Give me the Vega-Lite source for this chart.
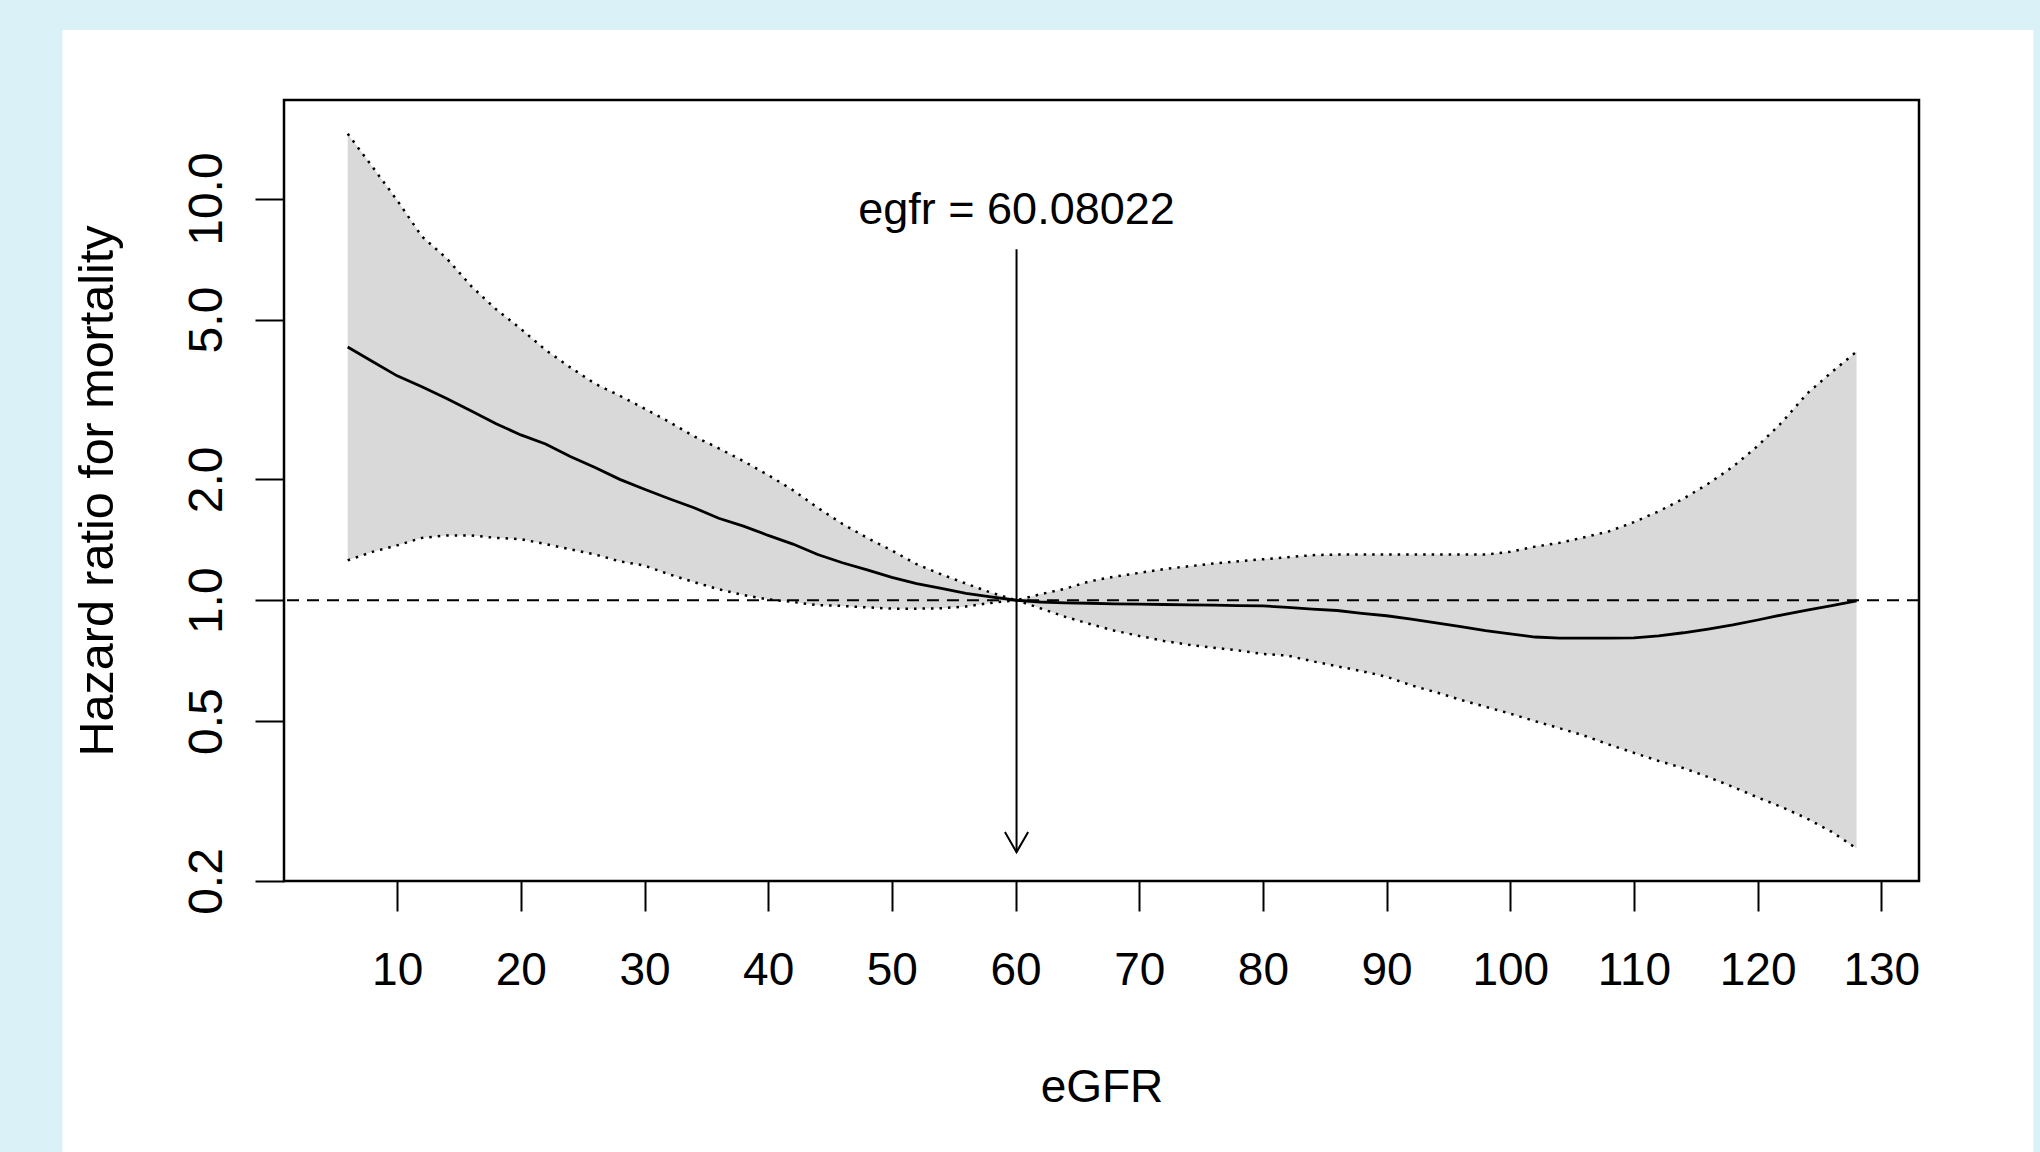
{
  "$schema": "https://vega.github.io/schema/vega-lite/v6.json",
  "width": 1635,
  "height": 781,
  "autosize": {"type": "none"},
  "padding": {"left": 284, "top": 100, "right": 121, "bottom": 271},
  "background": "#daf2f7",
  "config": {"view": {"stroke": null}, "font": "Liberation Sans"},
  "data": {
    "values": [
      {"egfr": 6, "hr": 4.27, "lo": 1.257, "hi": 14.5},
      {"egfr": 8, "hr": 3.93, "lo": 1.32, "hi": 12.0},
      {"egfr": 10, "hr": 3.62, "lo": 1.37, "hi": 9.9},
      {"egfr": 12, "hr": 3.40, "lo": 1.43, "hi": 8.05},
      {"egfr": 14, "hr": 3.18, "lo": 1.45, "hi": 7.1},
      {"egfr": 16, "hr": 2.96, "lo": 1.45, "hi": 6.05},
      {"egfr": 18, "hr": 2.75, "lo": 1.43, "hi": 5.3},
      {"egfr": 20, "hr": 2.58, "lo": 1.42, "hi": 4.74},
      {"egfr": 22, "hr": 2.45, "lo": 1.38, "hi": 4.2},
      {"egfr": 24, "hr": 2.28, "lo": 1.34, "hi": 3.8},
      {"egfr": 26, "hr": 2.14, "lo": 1.30, "hi": 3.46},
      {"egfr": 28, "hr": 2.00, "lo": 1.25, "hi": 3.23},
      {"egfr": 30, "hr": 1.89, "lo": 1.22, "hi": 3.0},
      {"egfr": 32, "hr": 1.79, "lo": 1.16, "hi": 2.78},
      {"egfr": 34, "hr": 1.70, "lo": 1.11, "hi": 2.56},
      {"egfr": 36, "hr": 1.60, "lo": 1.065, "hi": 2.39},
      {"egfr": 38, "hr": 1.53, "lo": 1.03, "hi": 2.22},
      {"egfr": 40, "hr": 1.45, "lo": 1.005, "hi": 2.05},
      {"egfr": 42, "hr": 1.38, "lo": 0.99, "hi": 1.88},
      {"egfr": 44, "hr": 1.30, "lo": 0.972, "hi": 1.70},
      {"egfr": 46, "hr": 1.24, "lo": 0.968, "hi": 1.55},
      {"egfr": 48, "hr": 1.19, "lo": 0.96, "hi": 1.43},
      {"egfr": 50, "hr": 1.14, "lo": 0.953, "hi": 1.33},
      {"egfr": 52, "hr": 1.10, "lo": 0.953, "hi": 1.23},
      {"egfr": 54, "hr": 1.07, "lo": 0.955, "hi": 1.16},
      {"egfr": 56, "hr": 1.04, "lo": 0.965, "hi": 1.10},
      {"egfr": 58, "hr": 1.02, "lo": 0.985, "hi": 1.045},
      {"egfr": 60.08022, "hr": 1.0, "lo": 1.0, "hi": 1.0},
      {"egfr": 62, "hr": 0.99, "lo": 0.955, "hi": 1.035},
      {"egfr": 64, "hr": 0.985, "lo": 0.91, "hi": 1.068},
      {"egfr": 66, "hr": 0.983, "lo": 0.873, "hi": 1.115},
      {"egfr": 68, "hr": 0.98, "lo": 0.84, "hi": 1.145},
      {"egfr": 70, "hr": 0.978, "lo": 0.815, "hi": 1.17},
      {"egfr": 72, "hr": 0.976, "lo": 0.792, "hi": 1.195},
      {"egfr": 74, "hr": 0.974, "lo": 0.775, "hi": 1.215},
      {"egfr": 76, "hr": 0.972, "lo": 0.762, "hi": 1.235},
      {"egfr": 78, "hr": 0.97, "lo": 0.75, "hi": 1.25},
      {"egfr": 80, "hr": 0.968, "lo": 0.735, "hi": 1.265},
      {"egfr": 82, "hr": 0.96, "lo": 0.728, "hi": 1.28},
      {"egfr": 84, "hr": 0.95, "lo": 0.705, "hi": 1.295},
      {"egfr": 86, "hr": 0.943, "lo": 0.685, "hi": 1.30},
      {"egfr": 88, "hr": 0.928, "lo": 0.666, "hi": 1.30},
      {"egfr": 90, "hr": 0.915, "lo": 0.645, "hi": 1.30},
      {"egfr": 92, "hr": 0.898, "lo": 0.614, "hi": 1.30},
      {"egfr": 94, "hr": 0.878, "lo": 0.59, "hi": 1.30},
      {"egfr": 96, "hr": 0.86, "lo": 0.565, "hi": 1.30},
      {"egfr": 98, "hr": 0.84, "lo": 0.543, "hi": 1.30},
      {"egfr": 100, "hr": 0.825, "lo": 0.522, "hi": 1.32},
      {"egfr": 102, "hr": 0.81, "lo": 0.50, "hi": 1.36},
      {"egfr": 104, "hr": 0.805, "lo": 0.48, "hi": 1.39},
      {"egfr": 106, "hr": 0.805, "lo": 0.46, "hi": 1.435},
      {"egfr": 108, "hr": 0.805, "lo": 0.437, "hi": 1.485},
      {"egfr": 110, "hr": 0.806, "lo": 0.417, "hi": 1.565},
      {"egfr": 112, "hr": 0.815, "lo": 0.398, "hi": 1.665},
      {"egfr": 114, "hr": 0.83, "lo": 0.382, "hi": 1.79},
      {"egfr": 116, "hr": 0.848, "lo": 0.363, "hi": 1.95},
      {"egfr": 118, "hr": 0.868, "lo": 0.343, "hi": 2.15},
      {"egfr": 120, "hr": 0.893, "lo": 0.323, "hi": 2.42},
      {"egfr": 122, "hr": 0.92, "lo": 0.305, "hi": 2.78},
      {"egfr": 124, "hr": 0.945, "lo": 0.286, "hi": 3.27},
      {"egfr": 126, "hr": 0.97, "lo": 0.265, "hi": 3.7},
      {"egfr": 128, "hr": 0.996, "lo": 0.241, "hi": 4.16}
    ]
  },
  "layer": [
    {
      "data": {"values": [{}]},
      "mark": {"type": "rect", "fill": "white", "clip": false},
      "encoding": {
        "x": {
          "datum": -17.07, "type": "quantitative",
          "scale": {"domain": [0.85, 133.05], "nice": false, "zero": false},
          "axis": {
            "title": "eGFR",
            "values": [10, 20, 30, 40, 50, 60, 70, 80, 90, 100, 110, 120, 130],
            "domain": false, "grid": false,
            "tickSize": 30, "tickWidth": 2, "tickColor": "black",
            "labelFontSize": 46, "labelFont": "Liberation Sans", "labelColor": "black",
            "labelBaseline": "alphabetic", "labelPadding": 73, "labelFlush": false, "labelOverlap": false,
            "titleFontSize": 46, "titleFont": "Liberation Sans", "titleFontWeight": "normal", "titleColor": "black",
            "titleBaseline": "alphabetic", "titleAlign": "center", "titleX": 817.5, "titleY": 220,
            "zindex": 2
          }
        },
        "x2": {"datum": 142.3},
        "y": {
          "datum": 26.3, "type": "quantitative",
          "scale": {"type": "log", "domain": [0.2, 17.6], "nice": false},
          "axis": {
            "title": "Hazard ratio for mortality",
            "values": [0.2, 0.5, 1, 2, 5, 10],
            "format": ".1f",
            "domain": false, "grid": false,
            "tickSize": 29, "tickWidth": 2, "tickColor": "black",
            "labelFontSize": 48, "labelFont": "Liberation Sans", "labelColor": "black",
            "labelAngle": -90, "labelAlign": "center", "labelBaseline": "alphabetic", "labelPadding": 34,
            "labelOverlap": false, "labelFlush": false,
            "titleFontSize": 48.5, "titleFont": "Liberation Sans", "titleFontWeight": "normal", "titleColor": "black",
            "titleAngle": -90, "titleBaseline": "alphabetic", "titleAlign": "center", "titleX": -172, "titleY": 390.5,
            "zindex": 2
          }
        },
        "y2": {"datum": 0.0423}
      }
    },
    {
      "mark": {"type": "area", "fill": "#d9d9d9", "opacity": 1},
      "encoding": {
        "x": {"field": "egfr", "type": "quantitative"},
        "y": {"field": "lo", "type": "quantitative"},
        "y2": {"field": "hi"}
      }
    },
    {
      "mark": {"type": "line", "color": "black", "strokeWidth": 2.5, "strokeDash": [2.5, 6]},
      "encoding": {
        "x": {"field": "egfr", "type": "quantitative"},
        "y": {"field": "hi", "type": "quantitative"}
      }
    },
    {
      "mark": {"type": "line", "color": "black", "strokeWidth": 2.5, "strokeDash": [2.5, 6]},
      "encoding": {
        "x": {"field": "egfr", "type": "quantitative"},
        "y": {"field": "lo", "type": "quantitative"}
      }
    },
    {
      "mark": {"type": "line", "color": "black", "strokeWidth": 2.8},
      "encoding": {
        "x": {"field": "egfr", "type": "quantitative"},
        "y": {"field": "hr", "type": "quantitative"}
      }
    },
    {
      "data": {"values": [{}]},
      "mark": {"type": "rule", "color": "black", "strokeWidth": 2, "strokeDash": [12, 8]},
      "encoding": {
        "y": {"datum": 1, "type": "quantitative"}
      }
    },
    {
      "data": {"values": [{}]},
      "mark": {"type": "rule", "color": "black", "strokeWidth": 2},
      "encoding": {
        "x": {"datum": 60.08022, "type": "quantitative"},
        "y": {"datum": 7.48, "type": "quantitative"},
        "y2": {"datum": 0.236}
      }
    },
    {
      "data": {"values": [{}]},
      "mark": {"type": "point", "shape": "M -0.5 -0.866 L 0 0 L 0.5 -0.866", "size": 2153, "filled": false, "stroke": "black", "strokeWidth": 2, "opacity": 1},
      "encoding": {
        "x": {"datum": 60.08022, "type": "quantitative"},
        "y": {"datum": 0.236, "type": "quantitative"}
      }
    },
    {
      "data": {"values": [{}]},
      "mark": {"type": "text", "text": "egfr = 60.08022", "fontSize": 45, "font": "Liberation Sans", "color": "black", "align": "center", "baseline": "alphabetic"},
      "encoding": {
        "x": {"datum": 60.08022, "type": "quantitative"},
        "y": {"datum": 8.63, "type": "quantitative"}
      }
    },
    {
      "data": {"values": [{}]},
      "mark": {"type": "rect", "fill": null, "fillOpacity": 0, "stroke": "black", "strokeWidth": 2.5},
      "encoding": {
        "x": {"datum": 0.85, "type": "quantitative"},
        "x2": {"datum": 133.05},
        "y": {"datum": 0.2, "type": "quantitative"},
        "y2": {"datum": 17.6}
      }
    }
  ]
}
